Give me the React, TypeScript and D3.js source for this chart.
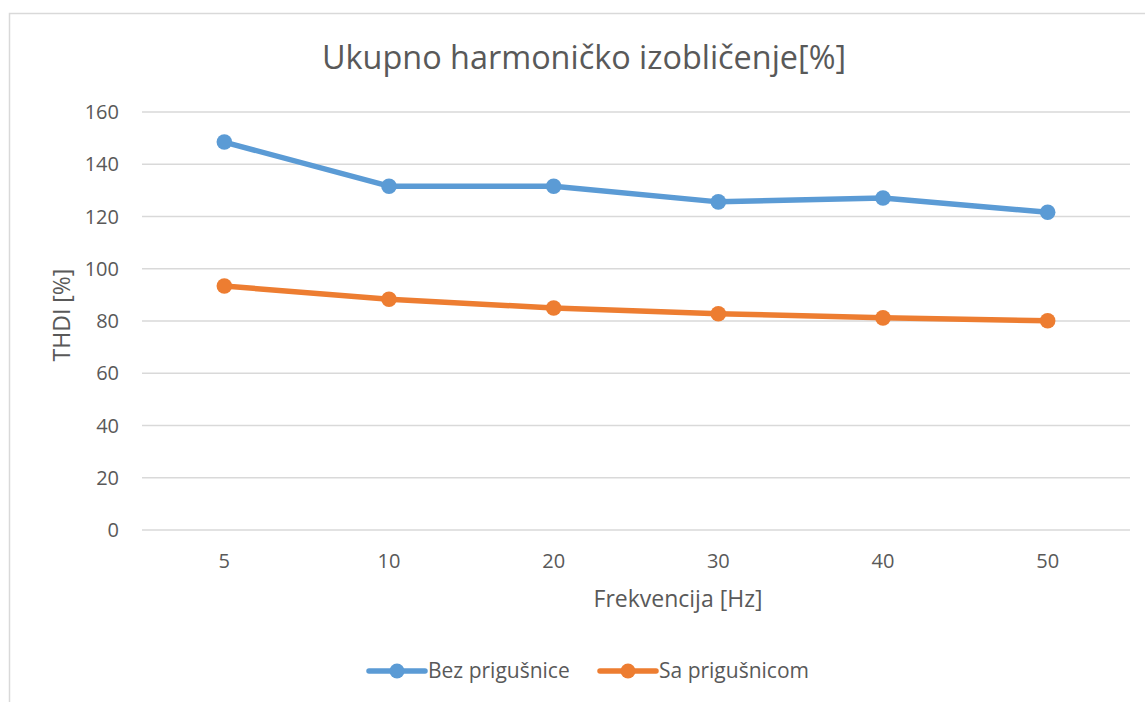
import React, { useRef, useEffect } from 'react';
import * as d3 from 'd3';

const categories = ['5', '10', '20', '30', '40', '50'];
const bezPrigusnice = [148.5, 131.6, 131.6, 125.6, 127.1, 121.6];
const saPrigusnicom = [93.4, 88.3, 85.0, 82.8, 81.2, 80.1];
const yTicks = [0, 20, 40, 60, 80, 100, 120, 140, 160];

const series = [
  { name: 'Bez prigušnice', values: bezPrigusnice, color: '#5b9bd5' },
  { name: 'Sa prigušnicom', values: saPrigusnicom, color: '#ed7d31' },
];

const App: React.FC = () => {
  const svgRef = useRef<SVGSVGElement>(null);
  const width = 1145;
  const height = 702;

  useEffect(() => {
    if (!svgRef.current) return;
    const svg = d3.select(svgRef.current);
    svg.selectAll('*').remove();

    const font = '"Open Sans", sans-serif';
    const textColor = '#595959';

    svg.append('rect')
      .attr('width', width)
      .attr('height', height)
      .attr('fill', '#fff');

    // chart frame (runs off the right/bottom edge)
    svg.append('path')
      .attr('d', `M9.5,${height + 5} V13.5 H${width + 5}`)
      .attr('fill', 'none')
      .attr('stroke', '#d9d9d9')
      .attr('stroke-width', 1.5);

    const margin = { top: 112, left: 142, right: 1130, bottom: 530 };

    const x = d3.scaleBand()
      .domain(categories)
      .range([margin.left, margin.right]);

    const y = d3.scaleLinear()
      .domain([0, 160])
      .range([margin.bottom, margin.top]);

    // grid
    svg.append('g')
      .selectAll('line')
      .data(yTicks)
      .join('line')
      .attr('x1', margin.left)
      .attr('x2', margin.right)
      .attr('y1', d => y(d))
      .attr('y2', d => y(d))
      .attr('stroke', '#d9d9d9')
      .attr('stroke-width', 1.5);

    // y tick labels
    svg.append('g')
      .selectAll('text')
      .data(yTicks)
      .join('text')
      .attr('x', 119)
      .attr('y', d => y(d))
      .attr('dy', '0.36em')
      .attr('text-anchor', 'end')
      .style('font-family', font)
      .style('font-size', '20px')
      .style('fill', textColor)
      .text(d => d);

    // x tick labels
    svg.append('g')
      .selectAll('text')
      .data(categories)
      .join('text')
      .attr('x', d => (x(d) || 0) + x.bandwidth() / 2)
      .attr('y', 568)
      .attr('text-anchor', 'middle')
      .style('font-family', font)
      .style('font-size', '20px')
      .style('fill', textColor)
      .text(d => d);

    // title
    svg.append('text')
      .attr('x', 584)
      .attr('y', 69)
      .attr('text-anchor', 'middle')
      .style('font-family', font)
      .style('font-size', '32.4px')
      .style('fill', textColor)
      .text('Ukupno harmoničko izobličenje[%]');

    // axis titles
    svg.append('text')
      .attr('x', 678)
      .attr('y', 607)
      .attr('text-anchor', 'middle')
      .style('font-family', font)
      .style('font-size', '23px')
      .style('fill', textColor)
      .text('Frekvencija [Hz]');

    svg.append('text')
      .attr('transform', `translate(70,315) rotate(-90)`)
      .attr('text-anchor', 'middle')
      .style('font-family', font)
      .style('font-size', '23px')
      .style('fill', textColor)
      .text('THDI [%]');

    const line = d3.line<number>()
      .x((_, i) => (x(categories[i]) || 0) + x.bandwidth() / 2)
      .y(d => y(d));

    series.forEach(s => {
      svg.append('path')
        .datum(s.values)
        .attr('d', line)
        .attr('fill', 'none')
        .attr('stroke', s.color)
        .attr('stroke-width', 5.5)
        .attr('stroke-linejoin', 'round')
        .attr('stroke-linecap', 'round');

      svg.append('g')
        .selectAll('circle')
        .data(s.values)
        .join('circle')
        .attr('cx', (_, i) => (x(categories[i]) || 0) + x.bandwidth() / 2)
        .attr('cy', d => y(d))
        .attr('r', 7.8)
        .attr('fill', s.color);
    });

    // legend
    const legendY = 671;
    const legendX = [369, 600];
    series.forEach((s, i) => {
      const g = svg.append('g').attr('transform', `translate(${legendX[i]},${legendY})`);
      g.append('line')
        .attr('x1', 0)
        .attr('x2', 56)
        .attr('stroke', s.color)
        .attr('stroke-width', 5.5)
        .attr('stroke-linecap', 'round');
      g.append('circle')
        .attr('cx', 28)
        .attr('r', 7.5)
        .attr('fill', s.color);
      g.append('text')
        .attr('x', 59)
        .attr('y', 7)
        .style('font-family', font)
        .style('font-size', '21px')
        .style('fill', textColor)
        .text(s.name);
    });
  }, []);

  return (
    <svg
      ref={svgRef}
      width={width}
      height={height}
      style={{ position: 'absolute', left: 0, top: 0, display: 'block' }}
    />
  );
};

export default App;
